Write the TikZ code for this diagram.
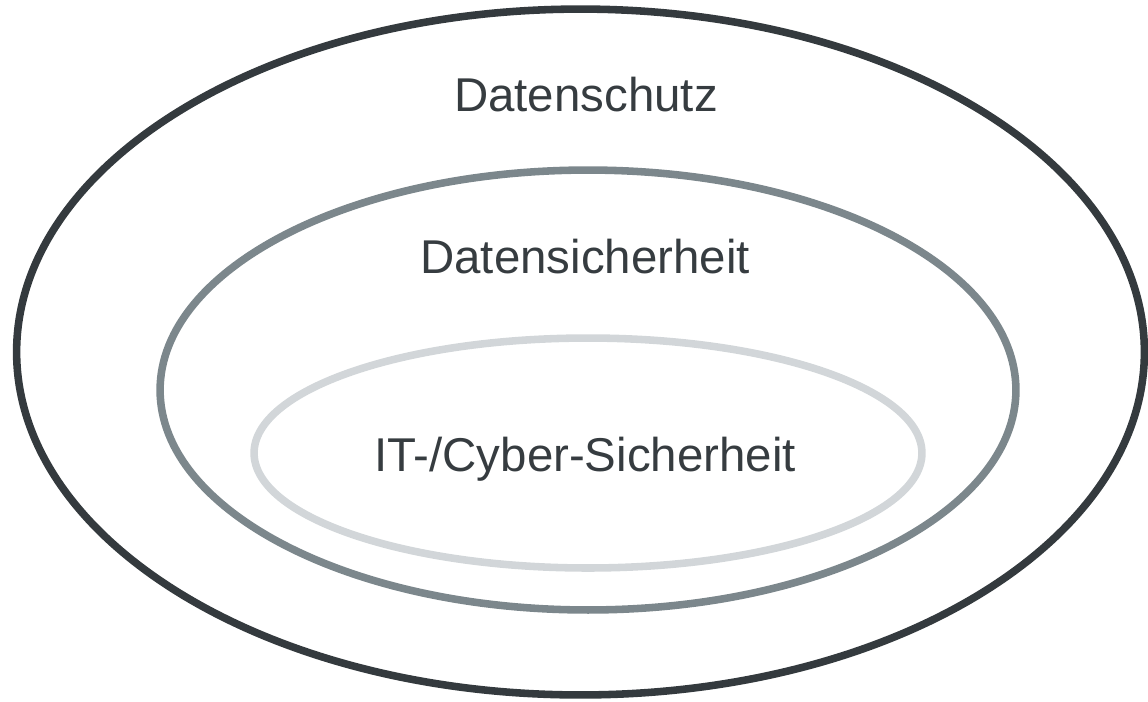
\documentclass[tikz,border=0pt]{standalone}
\usepackage{fontspec}
\setmainfont{Liberation Sans}
\usetikzlibrary{shapes.geometric}
\definecolor{ringdark}{HTML}{343A3E}
\definecolor{ringmid}{HTML}{7C878C}
\definecolor{ringlight}{HTML}{D2D6D9}
\definecolor{labeltext}{HTML}{363C40}

\begin{document}
\begin{tikzpicture}[x=0.02cm, y=-0.02cm,
    ring/.style={ellipse, draw, line width=4.3pt, inner sep=0pt, outer sep=0pt},
    lbl/.style={font=\fontsize{27}{32}\selectfont, text=labeltext, inner sep=0pt},
  ]
  \useasboundingbox (0,0) rectangle (1148,701);

  \node[ring, draw=ringdark, minimum width=22.56cm, minimum height=13.72cm] (schutz) at (580.5,352) {};
  \node[ring, draw=ringmid, minimum width=17.12cm, minimum height=8.8cm] (sicher) at (588,390) {};
  \node[ring, draw=ringlight, minimum width=13.36cm, minimum height=4.6cm] (cyber) at (588,453) {};

  \node[lbl] (tschutz) at (586,95) {Datenschutz};
  \node[lbl] (tsicher) at (585,257) {Datensicherheit};
  \node[lbl] (tcyber) at (585,459) {IT-/Cyber-Sicherheit};
\end{tikzpicture}
\end{document}
